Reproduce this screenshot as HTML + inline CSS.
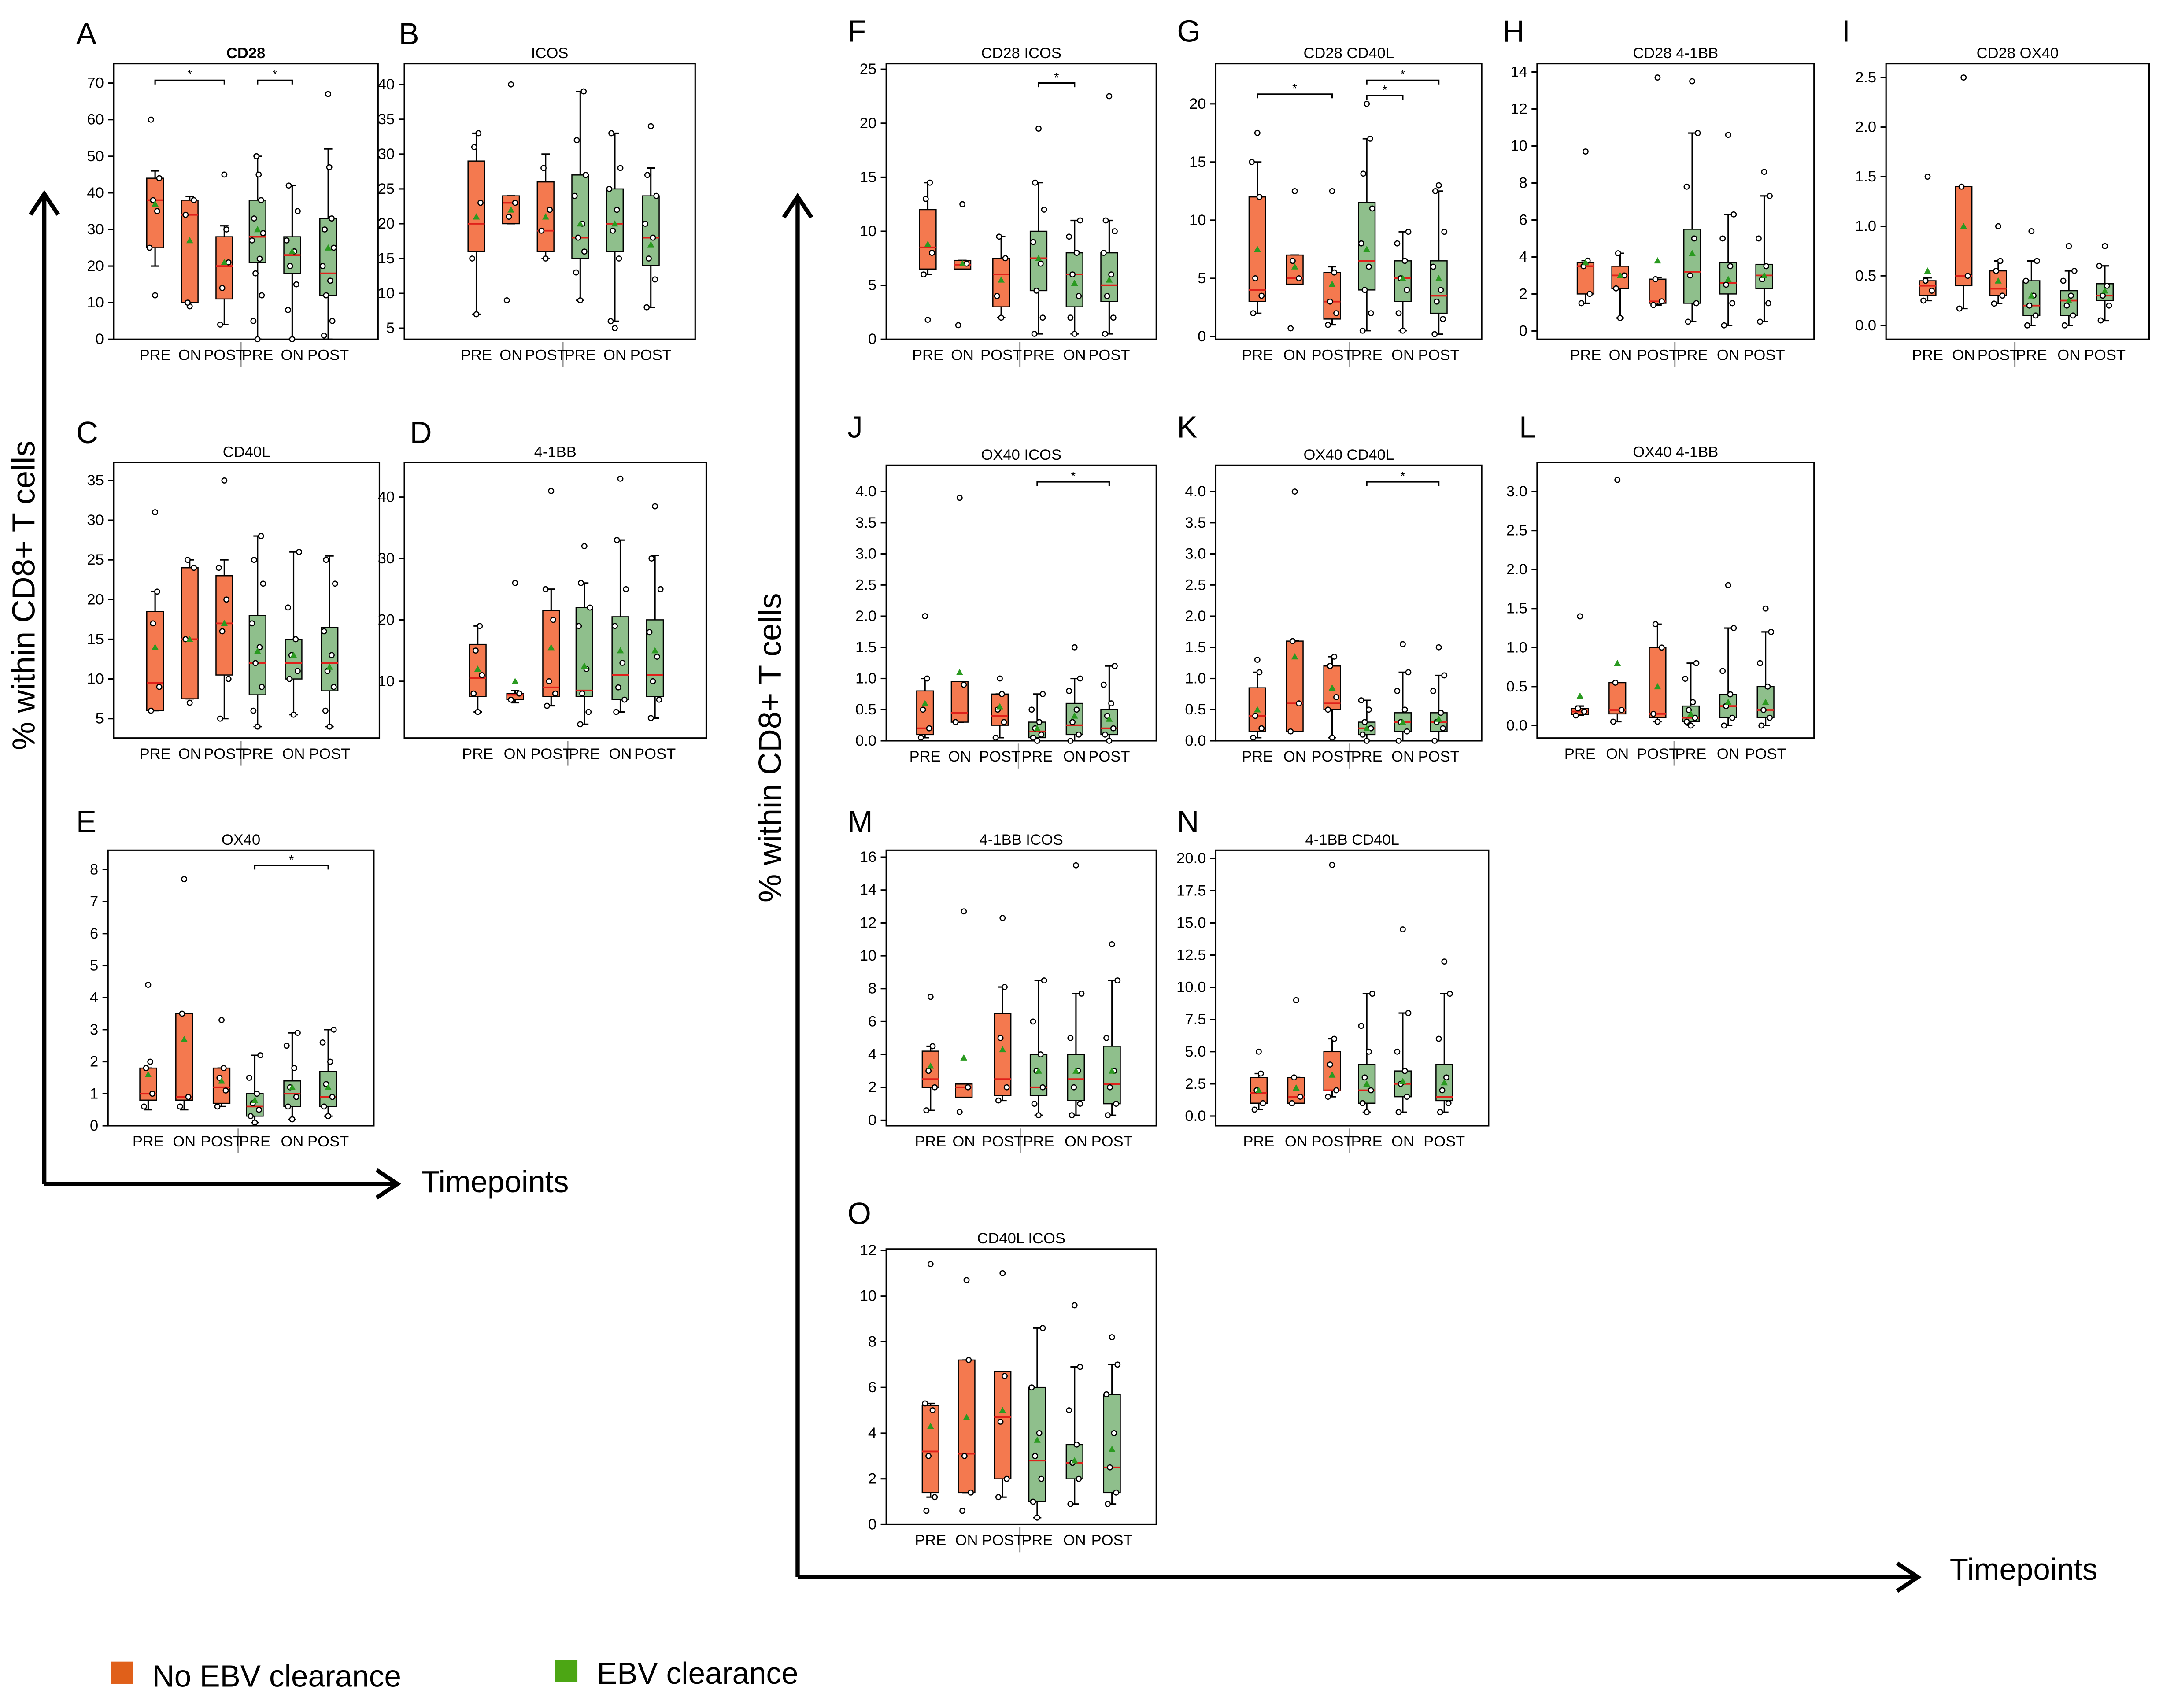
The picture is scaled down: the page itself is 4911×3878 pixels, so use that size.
<!DOCTYPE html>
<html><head><meta charset="utf-8"><style>
html,body{margin:0;padding:0;background:#fff}
svg{display:block}
text{font-family:"Liberation Sans",sans-serif;fill:#000}
</style></head><body>
<svg id="fig" width="4911" height="3878" viewBox="0 0 1562 1233.5" preserveAspectRatio="none" xmlns="http://www.w3.org/2000/svg">
<g stroke="#000" stroke-width="3" fill="none">
<path d="M32 855 V140 M22 155 L32 140 L42 155 M32 855 H287 M272 845 L287 855 L272 865"/>
</g>
<text x="0" y="0" font-size="23" text-anchor="middle" transform="translate(25 430) rotate(-90)">% within CD8+ T cells</text>
<text x="304" y="861" font-size="22">Timepoints</text>
<g stroke="#000" stroke-width="3" fill="none">
<path d="M576 1139 V142 M566 157 L576 142 L586 157 M576 1139 H1385 M1370 1129 L1385 1139 L1370 1149"/>
</g>
<text x="0" y="0" font-size="23" text-anchor="middle" transform="translate(564 540) rotate(-90)">% within CD8+ T cells</text>
<text x="1408" y="1141" font-size="22">Timepoints</text>
<rect x="80" y="1200" width="16" height="16" fill="#e0601a"/>
<text x="110" y="1218" font-size="22">No EBV clearance</text>
<rect x="401" y="1199" width="16" height="16" fill="#4ca614"/>
<text x="431" y="1216" font-size="22">EBV clearance</text>
<g id="panels"></g>
</svg>
<script>
// stats per group: [whiskerLow, q1, median, q3, whiskerHigh, mean]
const statsA=[[20,25,38,44,46,37],[10,10,34,38,39,27],[4,11,20,28,31,21],[0,21,28,38,50,30],[0,18,23,28,42,24],[0,12,18,33,52,25]];
const ptsA=[[12,60,44,38,35,25],[9,34,38,10],[45,4,21,14,30],[0,5,12,18,22,27,29,33,38,45,50],[0,8,15,20,24,27,35,42],[67,1,5,12,16,20,25,30,33,47]];
const statsB=[[7,16,20,29,33,21],[20,20,23,24,24,22],[15,16,19,26,30,21],[9,15,18,27,39,20],[6,16,20,25,33,20],[8,14,18,24,28,17]];
const ptsB=[[7,15,23,31,33],[40,9,23,21],[15,19,22,28],[9,13,16,18,20,24,27,32,39],[5,6,15,19,22,25,28,33],[34,8,12,15,18,20,24,27]];
const statsC=[[6,6,9.5,18.5,21,14],[7.5,7.5,15,24,25,15],[5,10.5,17,23,25,17],[4,8,12,18,28,13.5],[5.5,10,12,15,26,13],[4,8.5,12,16.5,25.5,11.5]];
const ptsC=[[31,6,9,17,21],[7,15,24,25],[35,5,10,16,20,24],[4,6,9,12,14,17,22,25,28],[5.5,10,11,13,15,19,26],[4,6,9,11,13,16,22,25]];
const statsD=[[5,7.5,10.5,16,19,12],[6.5,7,7.8,8,8.5,10],[6,7.5,9,21.5,25,15.5],[3,7.5,8.5,22,26,12.5],[5,7,11,20.5,33,15],[4,7.5,11,20,30.5,15]];
const ptsD=[[5,8,11,15,19],[26,7,8],[41,6,8,10,20,25],[32,3,5,8,12,19,22,26],[43,5,7,9,13,19,25,33],[38.5,4,7,10,14,18,25,30]];
const statsE=[[0.5,0.8,1.0,1.8,1.8,1.6],[0.5,0.8,0.9,3.5,3.5,2.7],[0.6,0.7,1.2,1.8,1.8,1.4],[0.1,0.3,0.6,1.0,2.2,0.8],[0.2,0.6,1.0,1.4,2.9,1.2],[0.3,0.6,0.9,1.7,3.0,1.2]];
const ptsE=[[4.4,0.6,1.0,1.8,2.0],[7.7,0.6,0.9,3.5],[3.3,0.6,1.1,1.5,1.8],[0.1,0.3,0.5,0.7,1,1.5,2.2],[0.2,0.6,0.9,1.2,1.8,2.5,2.9],[0.3,0.6,0.9,1.3,2.0,2.6,3.0]];
const statsF=[[6,6.5,8.5,12,14.5,8.8],[6.5,6.5,6.9,7.3,7.3,7],[2,3,6,7.5,9.5,5.5],[0.5,4.5,7.5,10,14.5,7.5],[0.5,3,6,8,11,5.2],[0.5,3.5,5,8,11,5.5]];
const ptsF=[[1.8,6,8,13,14.5],[12.5,1.3,7],[2,4,7.5,9.5],[19.5,0.5,2,4.5,7,9,12,14.5],[0.5,2,4,6,8,9.5,11],[22.5,0.5,2,4,6,8,10,11]];
const statsG=[[2,3,4,12,15,7.5],[4.5,4.5,5,7,7,6],[1,1.5,3,5.5,6,4.5],[0.5,4,6.5,11.5,17,7.5],[0.5,3,5,6.5,9,5],[0.2,2,3.5,6.5,12.5,5]];
const ptsG=[[17.5,2,3.5,5,12,15],[12.5,0.7,5,6.5],[12.5,1,2,3,5.5],[20,0.5,2,4,6,8,11,14,17],[0.5,2,4,5,6.5,8,9],[13,0.2,1.5,3,4,6,9,12.5]];
const statsH=[[1.5,2,3.5,3.7,3.8,3.7],[0.7,2.3,3,3.5,4.2,3],[1.4,1.5,1.6,2.8,2.9,3.8],[0.5,1.5,3.2,5.5,10.7,4.2],[0.3,2,2.6,3.7,6.3,2.8],[0.5,2.3,3,3.6,7.3,3]];
const ptsH=[[9.7,1.5,2,3.5,3.8],[0.7,2.3,3,4.2],[13.7,1.4,1.6,2.8],[13.5,0.5,1.5,3,5,7.8,10.7],[10.6,0.3,1.5,2.5,3.5,5,6.3],[8.6,0.5,1.5,2.8,3.5,5,7.3]];
const statsI=[[0.25,0.3,0.4,0.45,0.48,0.55],[0.17,0.4,0.5,1.4,1.4,1.0],[0.22,0.3,0.37,0.55,0.65,0.45],[0,0.1,0.2,0.45,0.65,0.3],[0,0.1,0.25,0.35,0.55,0.25],[0.05,0.25,0.3,0.42,0.6,0.35]];
const ptsI=[[1.5,0.25,0.35,0.45],[2.5,0.17,0.5,1.4],[1.0,0.22,0.3,0.55,0.65],[0.95,0,0.1,0.2,0.3,0.45,0.65],[0.8,0,0.1,0.2,0.3,0.45,0.55],[0.8,0.05,0.2,0.3,0.4,0.6]];
const statsJ=[[0.05,0.1,0.2,0.8,1.0,0.6],[0.3,0.3,0.45,0.95,0.95,1.1],[0.05,0.25,0.4,0.75,0.75,0.55],[0,0.05,0.15,0.3,0.75,0.2],[0,0.1,0.25,0.6,1.0,0.4],[0,0.1,0.2,0.5,1.2,0.35]];
const ptsJ=[[2.0,0.05,0.2,0.5,1.0],[3.9,0.3,0.9],[1.0,0.05,0.3,0.5,0.75],[0,0.05,0.1,0.2,0.3,0.5,0.75],[1.5,0,0.1,0.3,0.5,0.8,1.0],[0,0.1,0.2,0.4,0.6,0.9,1.2]];
const statsK=[[0.05,0.15,0.4,0.85,1.1,0.5],[0.15,0.15,0.6,1.6,1.6,1.35],[0.05,0.5,0.6,1.2,1.35,0.85],[0,0.1,0.2,0.3,0.65,0.2],[0,0.15,0.3,0.45,1.1,0.3],[0,0.15,0.3,0.45,1.05,0.35]];
const ptsK=[[1.3,0.05,0.2,0.4,1.1],[4.0,0.15,0.6,1.6],[0.05,0.5,0.7,1.2,1.35],[0,0.1,0.2,0.3,0.5,0.65],[1.55,0,0.15,0.3,0.5,0.8,1.1],[1.5,0,0.2,0.3,0.45,0.8,1.05]];
const statsL=[[0.13,0.14,0.18,0.22,0.25,0.38],[0.05,0.15,0.2,0.55,0.55,0.8],[0.05,0.1,0.15,1.0,1.3,0.5],[0,0.05,0.1,0.25,0.8,0.15],[0,0.1,0.25,0.4,1.25,0.3],[0,0.1,0.2,0.5,1.2,0.3]];
const ptsL=[[1.4,0.13,0.18,0.22],[3.15,0.05,0.2,0.55],[0.05,0.15,1.0,1.3],[0,0.05,0.1,0.2,0.3,0.6,0.8],[1.8,0,0.1,0.25,0.4,0.7,1.25],[1.5,0,0.1,0.2,0.5,0.8,1.2]];
const statsM=[[0.6,2,2.5,4.2,4.5,3.3],[1.4,1.4,2,2.2,2.2,3.8],[1.2,1.5,2.5,6.5,8.1,4.3],[0.3,1.5,2,4,8.5,3],[0.3,1.2,2.5,4,7.7,3],[0.3,1,2.2,4.5,8.5,3]];
const ptsM=[[7.5,0.6,2,3,4.5],[12.7,0.5,2],[12.3,1.2,2,5,8.1],[0.3,1,2,3,4,6,8.5],[15.5,0.3,1,2,3,5,7.7],[10.7,0.3,1,2,3,5,8.5]];
const statsN=[[0.5,1,1.8,3,3.3,2],[1,1,1.5,3,3,2.2],[1.5,2,2,5,6,3.2],[0.3,1,2,4,9.5,2.5],[0.3,1.5,2.5,3.5,8,2.7],[0.3,1.2,1.5,4,9.5,2.6]];
const ptsN=[[5,0.5,1,2,3.3],[9,1,1.5,3],[19.5,1.5,2,4,6],[0.3,1,2,3,5,7,9.5],[14.5,0.3,1.5,2.5,3.5,5,8],[12,0.3,1,2,3,6,9.5]];
const statsO=[[1.2,1.4,3.2,5.2,5.3,4.3],[1.4,1.4,3.1,7.2,7.2,4.7],[1.2,2,4.7,6.7,6.7,5],[0.3,1,2.8,6,8.6,3.7],[0.9,2,2.7,3.5,6.9,2.8],[0.9,1.4,2.5,5.7,7,3.3]];
const ptsO=[[11.4,0.6,1.2,3,5,5.3],[10.7,0.6,1.4,3,7.2],[11,1.2,2,4.5,6.5],[0.3,1,2,3,4,6,8.6],[9.6,0.9,2,2.7,3.5,5,6.9],[8.2,0.9,1.4,2.5,4,5.7,7]];
const ticksA=[0,10,20,30,40,50,60,70];
const ticksB=[5,10,15,20,25,30,35,40];
const ticksC=[5,10,15,20,25,30,35];
const ticksD=[10,20,30,40];
const ticksE=[0,1,2,3,4,5,6,7,8];
const ticksF=[0,5,10,15,20,25];
const ticksG=[0,5,10,15,20];
const ticksH=[0,2,4,6,8,10,12,14];
const ticksI=[0,0.5,1,1.5,2,2.5];
const ticksJ=[0,0.5,1,1.5,2,2.5,3,3.5,4];
const ticksL=[0,0.5,1,1.5,2,2.5,3];
const ticksM=[0,2,4,6,8,10,12,14,16];
const ticksN=[0,2.5,5,7.5,10,12.5,15,17.5,20];
const ticksO=[0,2,4,6,8,10,12];
const groupLabels=["PRE","ON","POST","PRE","ON","POST"];
// significance brackets: [fromGroup, toGroup]
const sigA=[[0,2],[3,4]], sigE=[[3,5]], sigF=[[3,4]], sigG=[[0,2],[3,4],[3,5]], sigJ=[[3,5]], sigK=[[3,5]];

// layout (pixels) — not data
const P=[
 {id:"A",title:"CD28",x0:82,x1:273,y0:46,y1:245,v0:0,p0:245,v1:70,p1:60,gx:[112,137,162,186,211,237],lx:55,ly:32,st:statsA,pt:ptsA,tk:ticksA,dec:0,sig:sigA,sy:[58,58]},
 {id:"B",title:"ICOS",x0:292,x1:502,y0:46,y1:245,v0:5,p0:237,v1:40,p1:61,gx:[344,369,394,419,444,470],lx:288,ly:32,st:statsB,pt:ptsB,tk:ticksB,dec:0},
 {id:"C",title:"CD40L",x0:82,x1:274,y0:334,y1:533,v0:5,p0:519,v1:35,p1:347,gx:[112,137,162,186,212,238],lx:55,ly:320,st:statsC,pt:ptsC,tk:ticksC,dec:0},
 {id:"D",title:"4-1BB",x0:292,x1:510,y0:334,y1:533,v0:10,p0:492,v1:40,p1:359,gx:[345,372,398,422,448,473],lx:296,ly:320,st:statsD,pt:ptsD,tk:ticksD,dec:0},
 {id:"E",title:"OX40",x0:78,x1:270,y0:614,y1:813,v0:0,p0:813,v1:8,p1:628,gx:[107,133,160,184,211,237],lx:55,ly:601,st:statsE,pt:ptsE,tk:ticksE,dec:0,sig:sigE,sy:[625]},
 {id:"F",title:"CD28  ICOS",x0:640,x1:835,y0:46,y1:245,v0:0,p0:245,v1:25,p1:50,gx:[670,695,723,750,776,801],lx:612,ly:30,st:statsF,pt:ptsF,tk:ticksF,dec:0,sig:sigF,sy:[60]},
 {id:"G",title:"CD28  CD40L",x0:878,x1:1070,y0:46,y1:245,v0:0,p0:243,v1:20,p1:75,gx:[908,935,962,987,1013,1039],lx:850,ly:30,st:statsG,pt:ptsG,tk:ticksG,dec:0,sig:sigG,sy:[68,69,58]},
 {id:"H",title:"CD28  4-1BB",x0:1110,x1:1310,y0:46,y1:245,v0:0,p0:239,v1:14,p1:52,gx:[1145,1170,1197,1222,1248,1274],lx:1085,ly:30,st:statsH,pt:ptsH,tk:ticksH,dec:0},
 {id:"I",title:"CD28  OX40",x0:1362,x1:1552,y0:46,y1:245,v0:0,p0:235,v1:2.5,p1:56,gx:[1392,1418,1443,1467,1494,1520],lx:1330,ly:30,st:statsI,pt:ptsI,tk:ticksI,dec:1},
 {id:"J",title:"OX40  ICOS",x0:640,x1:835,y0:336,y1:535,v0:0,p0:535,v1:4,p1:355,gx:[668,693,722,749,776,801],lx:612,ly:316,st:statsJ,pt:ptsJ,tk:ticksJ,dec:1,sig:sigJ,sy:[348]},
 {id:"K",title:"OX40  CD40L",x0:878,x1:1070,y0:336,y1:535,v0:0,p0:535,v1:4,p1:355,gx:[908,935,962,987,1013,1039],lx:850,ly:316,st:statsK,pt:ptsK,tk:ticksJ,dec:1,sig:sigK,sy:[348]},
 {id:"L",title:"OX40  4-1BB",x0:1110,x1:1310,y0:334,y1:533,v0:0,p0:524,v1:3,p1:355,gx:[1141,1168,1197,1221,1248,1275],lx:1097,ly:316,st:statsL,pt:ptsL,tk:ticksL,dec:1},
 {id:"M",title:"4-1BB  ICOS",x0:640,x1:835,y0:614,y1:813,v0:0,p0:809,v1:16,p1:619,gx:[672,696,724,750,777,803],lx:612,ly:601,st:statsM,pt:ptsM,tk:ticksM,dec:0},
 {id:"N",title:"4-1BB  CD40L",x0:878,x1:1075,y0:614,y1:813,v0:0,p0:806,v1:20,p1:620,gx:[909,936,962,987,1013,1043],lx:850,ly:601,st:statsN,pt:ptsN,tk:ticksN,dec:1},
 {id:"O",title:"CD40L  ICOS",x0:640,x1:835,y0:902,y1:1101,v0:0,p0:1101,v1:12,p1:903,gx:[672,698,724,749,776,803],lx:612,ly:884,st:statsO,pt:ptsO,tk:ticksO,dec:0}
];
const NS="http://www.w3.org/2000/svg";
const root=document.getElementById("panels");
function mk(tag,attrs,parent){const e=document.createElementNS(NS,tag);for(const k in attrs)e.setAttribute(k,attrs[k]);parent.appendChild(e);return e;}
const jit=[0,-3,3,-1.5,1.5,-4,4,-2.5,2.5,0.8,-0.8];
P.forEach(p=>{
 const yS=v=>p.p0+(v-p.v0)*(p.p1-p.p0)/(p.v1-p.v0);
 const g=mk("g",{},root);
 
 
 const lt=mk("text",{x:p.lx,y:p.ly,"font-size":22},g);lt.textContent=p.id;
 
 
 const tt=mk("text",{x:(p.x0+p.x1)/2,y:p.y0-4,"font-size":11,"text-anchor":"middle","font-weight":p.id==="A"?"bold":"normal"},g);tt.textContent=p.title;
 
 
 const fr=mk("rect",{x:p.x0,y:p.y0,width:p.x1-p.x0,height:p.y1-p.y0,fill:"none",stroke:"#000","stroke-width":1},g);
 
 
 p.tk.forEach(v=>{
  const y=yS(v);
  mk("line",{x1:p.x0-4,x2:p.x0,y1:y,y2:y,stroke:"#000","stroke-width":1},g);
  const t=mk("text",{x:p.x0-7,y:y+3.5,"font-size":11,"text-anchor":"end"},g);
  t.textContent=v.toFixed(p.dec);
  
  
 });
 const sep=(p.gx[2]+p.gx[3])/2;
 mk("line",{x1:sep,x2:sep,y1:p.y1+2,y2:p.y1+20,stroke:"#999","stroke-width":1},g);
 p.gx.forEach((x,i)=>{
  const t=mk("text",{x:x,y:p.y1+15,"font-size":11,"text-anchor":"middle"},g);
  t.textContent=groupLabels[i];
  
  
  const s=p.st[i], fill=i<3?"#f4794f":"#8fbf8c";
  const bg=mk("g",{},g);
  
  
  mk("line",{x1:x,x2:x,y1:yS(s[0]),y2:yS(s[4]),stroke:"#000","stroke-width":1},bg);
  mk("line",{x1:x-3,x2:x+3,y1:yS(s[0]),y2:yS(s[0]),stroke:"#000","stroke-width":1},bg);
  mk("line",{x1:x-3,x2:x+3,y1:yS(s[4]),y2:yS(s[4]),stroke:"#000","stroke-width":1},bg);
  mk("rect",{x:x-6,y:yS(s[3]),width:12,height:Math.max(1,yS(s[1])-yS(s[3])),fill:fill,stroke:"#000","stroke-width":0.8},bg);
  mk("line",{x1:x-6,x2:x+6,y1:yS(s[2]),y2:yS(s[2]),stroke:"#e0201a","stroke-width":1.2},bg);
  p.pt[i].forEach((v,k)=>{
   const c=mk("circle",{cx:x+jit[k%jit.length],cy:yS(v),r:1.8,fill:"#fff",stroke:"#000","stroke-width":0.8},bg);
   
   
  });
  const ym=yS(s[5]);
  const m=mk("polygon",{points:`${x},${ym-2.5} ${x-2.5},${ym+2} ${x+2.5},${ym+2}`,fill:"#2a9a20"},bg);
  
  
 });
 (p.sig||[]).forEach((s,j)=>{
  const y=p.sy[j],a=p.gx[s[0]],b=p.gx[s[1]];
  const br=mk("path",{d:`M${a} ${y+3} V${y} H${b} V${y+3}`,fill:"none",stroke:"#000","stroke-width":1},g);
  
  
  const st=mk("text",{x:(a+b)/2,y:y-1,"font-size":9,"text-anchor":"middle"},g);st.textContent="*";
  
  
 });
});
</script>
</body></html>
